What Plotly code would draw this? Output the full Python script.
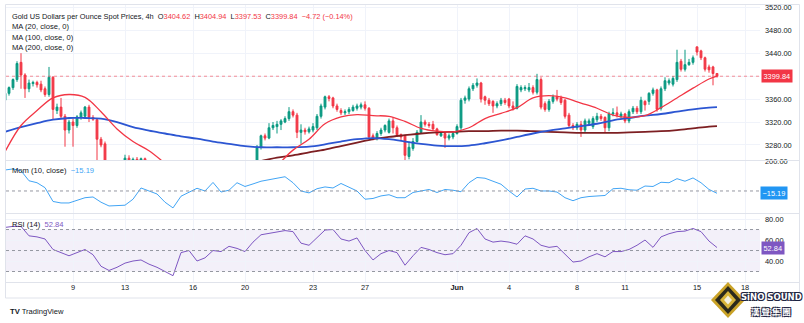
import plotly.graph_objects as go

# ---------------- data ----------------
opens = [3358,3370,3380,3394,3424,3402,3378,3387,3389,3386,
         3378,3368,3398,3340,3346,3330,3306,3320,3314,3328,
         3330,3346,3328,3324,3290,3282,3240,3215,3232,3238,
         3232,3257,3250,3255,3251,3256,3242,3226,3204,3212,
         3186,3177,3160,3132,3170,3204,3238,3224,3214,3228,
         3200,3188,3206,3196,3230,3242,3222,3232,3224,3230,
         3214,3230,3242,3240,3276,3296,3292,3310,3312,3316,
         3320,3326,3338,3332,3302,3306,3303,3306,3310,3330,
         3346,3364,3362,3348,3340,3336,3338,3340,3344,3346,
         3350,3344,3296,3292,3300,3306,3302,3322,3310,3298,
         3296,3260,3274,3286,3302,3320,3316,3316,3308,3296,
         3300,3292,3294,3300,3310,3358,3360,3378,3384,3388,
         3364,3358,3356,3348,3352,3358,3360,3348,3344,3376,
         3378,3376,3380,3372,3394,3352,3342,3356,3364,3362,
         3358,3332,3314,3310,3316,3306,3318,3312,3324,3330,
         3328,3310,3334,3336,3330,3334,3322,3338,3344,3338,
         3356,3356,3370,3376,3344,3378,3388,3386,3394,3426,
         3412,3420,3424,3451,3444,3432,3416,3416,3404.62]
highs = [3375,3382,3396,3426,3440,3405,3394,3392,3392,3392,
         3382,3416,3400,3352,3362,3334,3324,3326,3332,3340,
         3348,3350,3332,3326,3294,3286,3248,3238,3246,3244,
         3263,3262,3258,3259,3258,3258,3248,3232,3218,3216,
         3194,3185,3166,3176,3210,3244,3248,3238,3236,3232,
         3210,3214,3212,3240,3250,3246,3236,3238,3236,3234,
         3236,3248,3248,3280,3298,3300,3318,3320,3322,3325,
         3330,3346,3342,3336,3316,3310,3312,3318,3334,3352,
         3366,3367,3364,3352,3344,3342,3346,3350,3352,3354,
         3356,3346,3300,3304,3310,3316,3326,3328,3314,3300,
         3298,3286,3292,3306,3332,3324,3320,3322,3310,3304,
         3302,3300,3304,3316,3362,3366,3382,3388,3396,3390,
         3366,3362,3358,3356,3362,3362,3362,3356,3386,3384,
         3384,3388,3384,3404,3398,3356,3360,3368,3376,3366,
         3360,3336,3318,3320,3322,3326,3326,3330,3336,3334,
         3330,3338,3344,3347,3338,3336,3342,3348,3348,3364,
         3358,3372,3380,3378,3382,3398,3396,3400,3446,3430,
         3446,3430,3436,3452,3446,3434,3420,3418,3404.94]
lows = [3352,3366,3376,3390,3378,3362,3372,3382,3380,3372,
        3364,3364,3324,3334,3326,3277,3300,3277,3310,3324,
        3326,3320,3322,3252,3276,3230,3208,3210,3225,3226,
        3230,3245,3244,3246,3244,3238,3220,3196,3195,3180,
        3170,3152,3122,3125,3165,3198,3218,3206,3204,3194,
        3178,3184,3190,3190,3222,3214,3210,3214,3218,3206,
        3208,3224,3234,3236,3272,3288,3290,3306,3300,3306,
        3318,3322,3328,3292,3282,3298,3300,3302,3306,3326,
        3342,3356,3344,3338,3332,3332,3334,3338,3340,3342,
        3340,3290,3288,3288,3296,3302,3300,3300,3294,3288,
        3246,3255,3270,3284,3300,3312,3310,3305,3296,3294,
        3275,3288,3290,3298,3306,3352,3356,3374,3380,3354,
        3350,3348,3336,3344,3348,3350,3344,3340,3342,3372,
        3374,3372,3368,3368,3342,3338,3338,3352,3356,3350,
        3326,3310,3306,3306,3294,3302,3314,3308,3320,3322,
        3302,3304,3330,3328,3326,3318,3318,3334,3334,3334,
        3340,3350,3366,3338,3340,3374,3384,3382,3390,3408,
        3408,3418,3420,3436,3428,3408,3406,3384,3397.53]
closes = [3370,3380,3394,3422,3402,3378,3388,3389,3385,3376,
          3368,3398,3342,3346,3330,3306,3320,3314,3329,3336,
          3346,3328,3325,3290,3280,3240,3215,3232,3238,3232,
          3257,3250,3255,3251,3256,3242,3226,3204,3212,3186,
          3177,3160,3132,3170,3204,3238,3224,3214,3228,3200,
          3188,3206,3196,3230,3242,3222,3232,3224,3230,3214,
          3230,3242,3240,3276,3296,3292,3310,3314,3316,3322,
          3326,3338,3332,3302,3306,3303,3308,3312,3330,3348,
          3364,3361,3348,3342,3336,3338,3342,3346,3348,3350,
          3344,3294,3292,3300,3306,3314,3322,3310,3298,3294,
          3262,3276,3286,3302,3320,3316,3314,3308,3298,3300,
          3292,3296,3300,3312,3358,3362,3378,3384,3388,3360,
          3358,3352,3348,3352,3358,3354,3348,3344,3382,3380,
          3380,3380,3372,3394,3346,3342,3356,3364,3360,3354,
          3330,3314,3310,3316,3306,3322,3322,3326,3330,3326,
          3310,3334,3336,3332,3334,3322,3338,3344,3338,3358,
          3350,3370,3376,3342,3378,3392,3392,3396,3424,3412,
          3420,3424,3432,3442,3432,3412,3411,3404.56,3399.84]

# moving averages, read every 4th candle
ma_idx = list(range(0, 177, 4)) + [178]
ma20 = [3268,3314,3340,3362,3368,3363,3338,3308,3286,3270,
        3248,3225,3205,3200,3205,3215,3228,3245,3271,3290,
        3317,3329,3333,3331,3330,3321,3309,3304,3303,3310,
        3326,3335,3345,3362,3366,3362,3353,3344,3332,3328,
        3331,3345,3362,3379,3395,3400]
ma100 = [3303,3311,3318,3324,3327,3327,3326,3320,3311,3305,
         3300,3295,3291,3286,3282,3278,3276,3276,3276,3277,
         3281,3286,3290,3292,3290,3286,3282,3279,3278,3279,
         3283,3288,3294,3300,3305,3309,3313,3317,3323,3327,
         3331,3334,3338,3342,3345,3346]
ma200 = [3204,3207,3210,3212,3213,3216,3218,3219,3221,3224,
         3226,3228,3232,3236,3240,3246,3252,3258,3262,3267,
         3272,3278,3284,3290,3294,3297,3300,3302,3303,3304,
         3304,3305,3305,3304,3303,3302,3301,3301,3301,3302,
         3303,3304,3306,3309,3312,3313]

# oscillators, read every 2nd candle
osc_idx = list(range(0, 179, 2))
mom = [140,147,135,68,55,22,-70,-80,-80,-60,
       -45,-40,-75,-100,-100,-95,-55,20,0,-20,
       -75,-113,-35,-7,18,0,57,-7,5,55,
       30,47,65,75,85,95,55,0,-13,15,
       27,20,50,27,0,-55,-50,-33,-25,-45,
       -45,-10,0,10,-10,10,5,-5,55,90,
       85,67,45,0,-40,13,18,0,0,-7,
       -45,-65,-45,-37,-35,-30,15,18,8,5,
       33,30,58,55,82,65,87,55,10,-15.19]
rsi = [72,73,73,64,63,61,51,48,45,48,
       51,46,35,31,34,38,40,41,37,34,
       30,26,48,50,40,43,50,49,54,52,
       49,58,65,66.5,67.5,69,68,57,55,62,
       69.5,70,61,59,62,50,41,47,50,48,
       36,45,53,51,48,46,47,55,67,71,
       61,58,59,58,56,64,61,55,53,54,
       46,39,40,44,47,44,49,49,51,55,
       60,53,63,66,68,68.5,71,68,59,52.84]

tick_idx = [17, 30, 47, 60, 77, 90, 113, 126, 143, 155, 173, 185]
tick_lbl = ["9", "13", "16", "20", "23", "27", "Jun", "4", "8", "11", "15", "18"]
price_ticks = [3280, 3320, 3360, 3400, 3440, 3480, 3520]
mom_ticks = [200]
rsi_ticks = [40, 60, 80]
rsi_levels = [30, 50, 70]

title = "Gold US Dollars per Ounce Spot Prices, 4h"
ma_names = ["MA (20, close, 0)", "MA (100, close, 0)", "MA (200, close, 0)"]

# ---------------- style ----------------
W, H = 804, 323
FONT = "Liberation Sans"
FS = 7.4
FL = 7.6
TXT = "#131722"
UP, DN = "#089981", "#f23645"
C20, C100, C200 = "#f23645", "#2c56d2", "#7d1f22"
CMOM, CRSI = "#42a5f5", "#7e57c2"
GRID = "#f0f3fa"
SEP = "#e0e3eb"


def fx(p):
    return p / W


def fy(p):
    return 1 - p / H


XL, XR = 6, 760
x_range = [(XL - 5) / 4, (XR - 5) / 4]

fig = go.Figure()
fig.add_trace(go.Candlestick(
    x=list(range(len(closes))), open=opens, high=highs, low=lows, close=closes,
    increasing=dict(line=dict(color=UP, width=1), fillcolor=UP),
    decreasing=dict(line=dict(color=DN, width=1), fillcolor=DN),
    whiskerwidth=0, xaxis="x", yaxis="y", showlegend=False, hoverinfo="skip"))
for vals, col, w in [(ma200, C200, 1.8), (ma100, C100, 1.8), (ma20, C20, 1.3)]:
    fig.add_trace(go.Scatter(x=ma_idx, y=vals, mode="lines", xaxis="x", yaxis="y",
                             line=dict(color=col, width=w, shape="spline", smoothing=1),
                             showlegend=False, hoverinfo="skip"))
fig.add_trace(go.Scatter(x=osc_idx, y=mom, mode="lines", xaxis="x2", yaxis="y2",
                         line=dict(color=CMOM, width=1), showlegend=False, hoverinfo="skip"))
fig.add_trace(go.Scatter(x=osc_idx, y=rsi, mode="lines", xaxis="x3", yaxis="y3",
                         line=dict(color=CRSI, width=1), showlegend=False, hoverinfo="skip"))

xdom = [fx(XL), fx(XR)]
xcommon = dict(domain=xdom, range=x_range, tickvals=tick_idx, showgrid=True, gridcolor=GRID,
               gridwidth=1, zeroline=False, showline=False, ticks="", fixedrange=True)
fmt_tick = lambda lbl: "<b>%s</b>" % lbl if not lbl.isdigit() else lbl
ycommon = dict(side="right", showgrid=True, gridcolor=GRID, zeroline=False, showline=False,
               ticks="", ticklabelstandoff=4, tickfont=dict(family=FONT, size=FS, color=TXT),
               fixedrange=True)

fig.update_layout(
    width=W, height=H, margin=dict(l=0, r=0, t=0, b=0),
    paper_bgcolor="white", plot_bgcolor="white", template="none",
    boxgap=0.35, showlegend=False,
    xaxis=dict(anchor="y", showticklabels=False, rangeslider=dict(visible=False), **xcommon),
    xaxis2=dict(anchor="y2", matches="x", showticklabels=False, **xcommon),
    xaxis3=dict(anchor="y3", matches="x", showticklabels=True,
                ticktext=[fmt_tick(t) for t in tick_lbl],
                tickfont=dict(family=FONT, size=FS, color=TXT), **xcommon),
    yaxis=dict(anchor="x", domain=[fy(160), fy(5)], range=[3253.8, 3524],
               tickvals=price_ticks,
               ticktext=["" if v == 3400 else "%.2f" % v for v in price_ticks], **ycommon),
    yaxis2=dict(anchor="x2", domain=[fy(213), fy(161)], range=[-147, 200],
                tickvals=mom_ticks, ticktext=["%.2f" % v for v in mom_ticks], **ycommon),
    yaxis3=dict(anchor="x3", domain=[fy(282), fy(214)], range=[20, 84.8],
                tickvals=rsi_ticks, ticktext=["%.2f" % v for v in rsi_ticks], **ycommon),
)

shapes = []
# RSI band and levels
shapes.append(dict(type="rect", xref="x3 domain", yref="y3", x0=0, x1=1,
                   y0=min(rsi_levels), y1=max(rsi_levels),
                   fillcolor="rgba(126,87,194,0.09)", line=dict(width=0), layer="below"))
for lv in rsi_levels:
    shapes.append(dict(type="line", xref="x3 domain", yref="y3", x0=0, x1=1, y0=lv, y1=lv,
                       line=dict(color="#9598a1", width=1, dash="3px,3px")))
shapes.append(dict(type="line", xref="x2 domain", yref="y2", x0=0, x1=1, y0=0, y1=0,
                   line=dict(color="#9598a1", width=1, dash="3px,3px")))
# last price line
shapes.append(dict(type="line", xref="x domain", yref="y", x0=0, x1=1,
                   y0=closes[-1], y1=closes[-1],
                   line=dict(color="rgba(242,54,69,0.55)", width=1, dash="dot")))
# pane separators and frame
for yy in [160.5, 213.5, 282.5]:
    shapes.append(dict(type="line", xref="paper", yref="paper", x0=fx(6), x1=fx(799),
                       y0=fy(yy), y1=fy(yy), line=dict(color=SEP, width=1)))
shapes.append(dict(type="rect", xref="paper", yref="paper", x0=fx(5.5), x1=fx(799.5),
                   y0=fy(298), y1=fy(4.5), line=dict(color=SEP, width=1)))


# Sino Sound logo (diamond)
def diamond(cx, cy, hw, hh):
    pts = [(cx - hw, cy), (cx, cy - hh), (cx + hw, cy), (cx, cy + hh)]
    return "M " + " L ".join("%.5f,%.5f" % (fx(a), fy(b)) for a, b in pts) + " Z"


for (hw, hh, col) in [(17, 18, "#c9a227"), (13, 14, "#2b2a1c"), (8, 9, "#d8b53a"), (4, 4.5, "#f3f0e0")]:
    shapes.append(dict(type="path", xref="paper", yref="paper", path=diamond(728, 300, hw, hh),
                       fillcolor=col, line=dict(width=0)))
fig.update_layout(shapes=shapes)


def ann(x, y, text, color=TXT, size=FL, xanchor="left"):
    return dict(xref="paper", yref="paper", x=fx(x), y=fy(y), text=text, showarrow=False,
                xanchor=xanchor, yanchor="middle",
                font=dict(family=FONT, size=size, color=color))


chg = closes[-1] - closes[-2]
pct = chg / closes[-2] * 100


def sgn(v):
    return ("\u2212%.2f" % abs(v)) if v < 0 else ("+%.2f" % v)


red = lambda s: "<span style='color:%s'>%s</span>" % (DN, s)
head = (title + "  O" + red("%.2f" % opens[-1]) + "  H" + red("%.2f" % highs[-1])
        + "  L" + red("%.2f" % lows[-1]) + "  C" + red("%.2f" % closes[-1])
        + "  " + red("%s (%s%%)" % (sgn(chg), sgn(pct))))

anns = [
    ann(10, 16, head, size=7.4),
    ann(10, 27, ma_names[0]),
    ann(10, 37.5, ma_names[1]),
    ann(10, 48, ma_names[2]),
    ann(10, 170, "Mom (10, close)  <span style='color:%s'>%s</span>" % (CMOM, sgn(mom[-1]))),
    ann(10, 224, "RSI (14)  <span style='color:%s'>%.2f</span>" % (CRSI, rsi[-1])),
    dict(xref="paper", yref="y", x=fx(761), y=closes[-1], text="%.2f" % closes[-1],
         showarrow=False, xanchor="left", yanchor="middle", bgcolor=DN, borderpad=1.5,
         font=dict(family=FONT, size=FS, color="white")),
    dict(xref="paper", yref="y2", x=fx(760), y=mom[-1], text=sgn(mom[-1]),
         showarrow=False, xanchor="left", yanchor="middle", bgcolor="#2196f3", borderpad=1.5,
         font=dict(family=FONT, size=FS, color="white")),
    dict(xref="paper", yref="y3", x=fx(761), y=rsi[-1], text="%.2f" % rsi[-1],
         showarrow=False, xanchor="left", yanchor="middle", bgcolor=CRSI, borderpad=1.5,
         font=dict(family=FONT, size=FS, color="white")),
    ann(8, 311, "<b>TV</b> TradingView", size=7.6),
]
shadow = "1px 1px 0 #1d2340, -1px -1px 0 #1d2340, 1px -1px 0 #1d2340, -1px 1px 0 #1d2340"
anns.append(dict(xref="paper", yref="paper", x=fx(771), y=fy(297), text="<b>SiNO SOUND</b>",
                 showarrow=False, xanchor="center", yanchor="middle",
                 font=dict(family="DejaVu Sans", size=8.5, color="white", shadow=shadow)))
anns.append(dict(xref="paper", yref="paper", x=fx(771), y=fy(311), text="<b>漢 聲 集 團</b>",
                 showarrow=False, xanchor="center", yanchor="middle",
                 font=dict(family="Noto Sans CJK TC", size=8.5, color="white", shadow=shadow)))
fig.update_layout(annotations=anns)

fig.write_html("out.html", config={"displayModeBar": False, "staticPlot": True})
